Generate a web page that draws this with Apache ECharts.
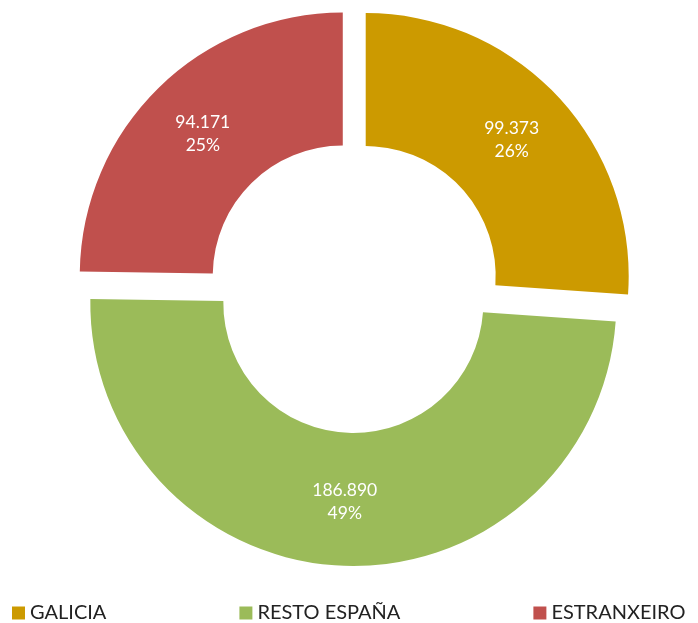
<!DOCTYPE html>
<html><head><meta charset="utf-8">
<script src="https://cdn.jsdelivr.net/npm/echarts@6/dist/echarts.min.js"></script>
<style>html,body{margin:0;padding:0;background:#fff;}#c{width:698px;height:623px;}</style>
</head><body><div id="c"></div>
<script>
const categories = ['GALICIA', 'RESTO ESPAÑA', 'ESTRANXEIRO'];
const values = [99373, 186890, 94171];
const colors = ['#CC9A00', '#9BBB59', '#C0504D'];

const total = values.reduce((a, b) => a + b, 0);
function fmtNum(v) { return String(v).replace(/\B(?=(\d{3})+(?!\d))/g, '.'); }

const chart = echarts.init(document.getElementById('c'));
chart.setOption({
  animation: false,
  textStyle: { fontFamily: 'Lato' },
  legend: {
    bottom: -5, left: 7,
    itemGap: 133,
    icon: 'rect', itemWidth: 13, itemHeight: 13,
    textStyle: { fontSize: 20, color: '#222', fontFamily: 'Lato' },
    selectedMode: false,
    data: categories
  },
  series: [{
    type: 'pie',
    center: [354, 287],
    radius: [130, 263],
    startAngle: 90,
    clockwise: true,
    selectedMode: 'multiple',
    selectedOffset: 16,
    avoidLabelOverlap: false,
    label: {
      show: true, position: 'inside', color: '#fff', fontSize: 17.5, lineHeight: 23,
      fontFamily: 'Lato',
      formatter: p => fmtNum(p.value) + '\n' + Math.round(p.value / total * 100) + '%'
    },
    labelLine: { show: false },
    emphasis: { disabled: true },
    data: categories.map((n, i) => ({
      name: n, value: values[i], selected: true,
      itemStyle: { color: colors[i] },
      select: { itemStyle: { color: colors[i], borderWidth: 0 }, label: { color: '#fff' } }
    }))
  }]
});
</script></body></html>
